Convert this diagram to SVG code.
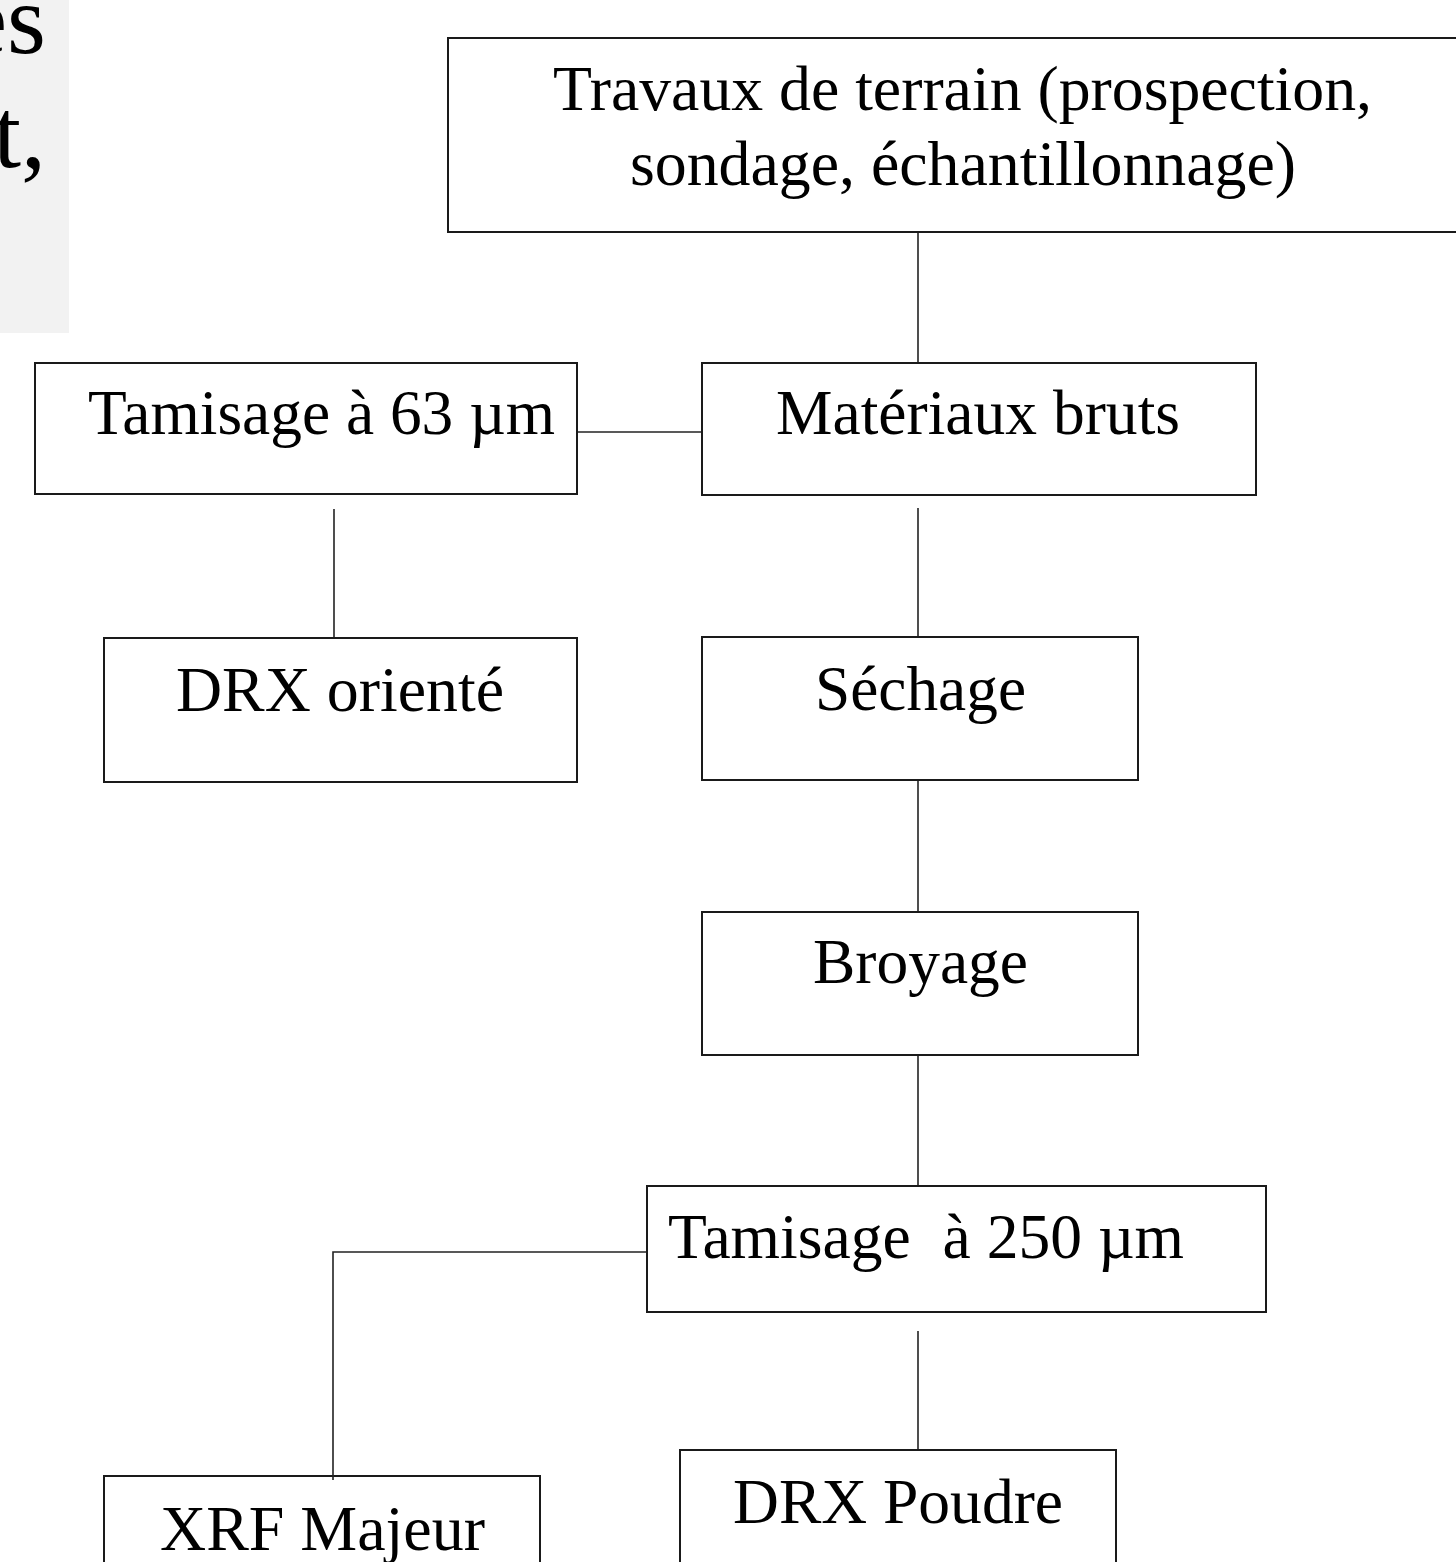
<svg xmlns="http://www.w3.org/2000/svg" width="1456" height="1562" viewBox="0 0 1456 1562">
<style>
.box{fill:#fff;stroke:#1a1a1a;stroke-width:2}
.lbl{font-family:"Liberation Serif","Times New Roman",serif;font-size:64px;fill:#000}
.cn{fill:none;stroke:#222;stroke-width:1.6}
</style>
<rect width="1456" height="1562" fill="#fff"/>
<g id="sidebar">
<rect x="0" y="0" width="69" height="333" fill="#f2f2f2"/>
<text class="lbl" x="46" y="53" text-anchor="end" style="font-size:100px">es</text>
<text class="lbl" x="46" y="167" text-anchor="end" style="font-size:100px">t,</text>
</g>
<g id="travaux">
<rect class="box" x="448" y="38" width="1012" height="194"/>
<text class="lbl" x="553" y="110" textLength="819" lengthAdjust="spacingAndGlyphs">Travaux de terrain (prospection,</text>
<text class="lbl" x="630" y="185" textLength="666" lengthAdjust="spacingAndGlyphs">sondage, échantillonnage)</text>
</g>
<g id="materiaux">
<rect class="box" x="702" y="363" width="554" height="132"/>
<text class="lbl" x="776" y="434" textLength="404" lengthAdjust="spacingAndGlyphs">Matériaux bruts</text>
</g>
<g id="tamisage63">
<rect class="box" x="35" y="363" width="542" height="131"/>
<text class="lbl" x="88" y="434" textLength="467" lengthAdjust="spacingAndGlyphs">Tamisage à 63 µm</text>
</g>
<g id="drxoriente">
<rect class="box" x="104" y="638" width="473" height="144"/>
<text class="lbl" x="176" y="711" textLength="328" lengthAdjust="spacingAndGlyphs">DRX orienté</text>
</g>
<g id="sechage">
<rect class="box" x="702" y="637" width="436" height="143"/>
<text class="lbl" x="815" y="710" textLength="211" lengthAdjust="spacingAndGlyphs">Séchage</text>
</g>
<g id="broyage">
<rect class="box" x="702" y="912" width="436" height="143"/>
<text class="lbl" x="813" y="983" textLength="215" lengthAdjust="spacingAndGlyphs">Broyage</text>
</g>
<g id="tamisage250">
<rect class="box" x="647" y="1186" width="619" height="126"/>
<text class="lbl" x="668" y="1258" textLength="516" lengthAdjust="spacingAndGlyphs" xml:space="preserve">Tamisage  à 250 µm</text>
</g>
<g id="drxpoudre">
<rect class="box" x="680" y="1450" width="436" height="130"/>
<text class="lbl" x="733" y="1523" textLength="330" lengthAdjust="spacingAndGlyphs">DRX Poudre</text>
</g>
<g id="xrf">
<rect class="box" x="104" y="1476" width="436" height="110"/>
<text class="lbl" x="160" y="1550" textLength="325" lengthAdjust="spacingAndGlyphs">XRF Majeur</text>
</g>
<g id="connectors">
<line class="cn" x1="918" y1="233" x2="918" y2="362"/>
<line class="cn" x1="578" y1="432" x2="701" y2="432"/>
<line class="cn" x1="334" y1="509" x2="334" y2="637"/>
<line class="cn" x1="918" y1="508" x2="918" y2="636"/>
<line class="cn" x1="918" y1="781" x2="918" y2="911"/>
<line class="cn" x1="918" y1="1056" x2="918" y2="1185"/>
<polyline class="cn" points="646,1252 333,1252 333,1480"/>
<line class="cn" x1="918" y1="1331" x2="918" y2="1449"/>
</g>
</svg>
